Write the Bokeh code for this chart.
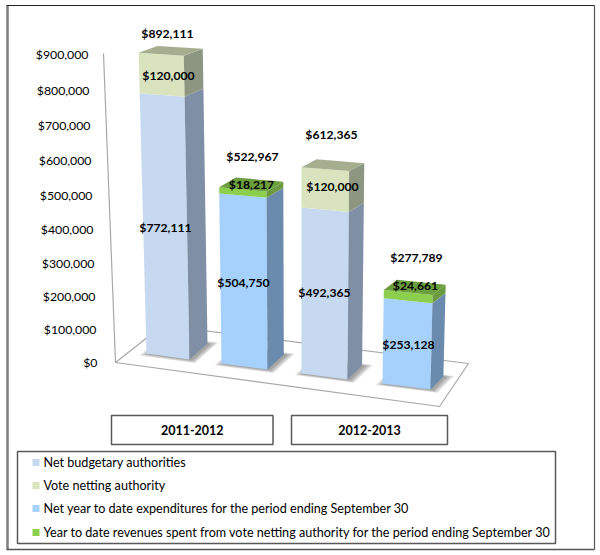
from bokeh.plotting import figure
from bokeh.embed import file_html
from bokeh.resources import INLINE
from bokeh.models import Range1d
from bokeh.core.properties import value

categories = ["2011-2012", "2012-2013"]
tick_values = [0, 100000, 200000, 300000, 400000, 500000, 600000, 700000, 800000, 900000]
tick_labels = ["$" + format(v, ",") for v in tick_values]

net_budgetary = [772111, 492365]
vote_netting = [120000, 120000]
net_expenditures = [504750, 253128]
revenues_spent = [18217, 24661]
totals_budget = [892111, 612365]
totals_spent = [522967, 277789]

legend_labels = [
    "Net budgetary authorities",
    "Vote netting authority",
    "Net year to date expenditures for the period ending September 30",
    "Year to date revenues spent from vote netting authority for the period ending September 30",
]

# styles
C_BUDGET = ("#c6d9f1", "#7f8fa6", "#a0aec0")
C_VOTE = ("#d9e4bf", "#8c9680", "#a6ae90")
C_SPENT = ("#a6d1fd", "#6a8bad", "#80a8d0")
C_REV = ("#8ccf4d", "#6b9a3f", "#6b9e3c")
LEG = ["#c6d9f1", "#d9e4bf", "#a6d1fd", "#8ccf4d"]
FONT = "Lato"
TXT = "#000000"
FLOOR = "#a8a8a8"

p = figure(width=600, height=555, output_backend="svg", toolbar_location=None,
           x_axis_type=None, y_axis_type=None, x_range=Range1d(0, 600), y_range=Range1d(555, 0),
           min_border=0, outline_line_color=None, background_fill_color="white")
p.grid.visible = False

PX_PER_VALUE = 0.000337
SLOT_X = (146, 221, 301, 382)
SLOT_W = (43, 46, 46, 48)


def corner(i, v, u, d):
    """Project bar slot i at height value v; u across (0..1), d depth (0..1)."""
    h = v * PX_PER_VALUE
    bx = SLOT_X[i] + SLOT_W[i] * u + (18 - 1.7 * i) * d
    by = 353 + 10 * i + (6 - 0.01 * h) * u + (-16 + i * 1.0 + 0.03 * h) * d
    tilt = (300 - bx) * 0.00017
    return bx - tilt * h, by - h


def axis_y(v):
    t = v / 900000
    return (-310.8 * t + 362) / (1 - 0.052 * t)


def poly(pts, fill, alpha=1.0):
    p.patch([a for a, _ in pts], [b for _, b in pts], fill_color=fill, fill_alpha=alpha, line_color=None)


# floor and wall
floor_x = [115, 439, 468, 162, 115, 103]
floor_y = [362, 406, 363, 325, 362, 53]
p.line(floor_x, floor_y, line_color=FLOOR, line_width=1.2)

# frame
p.line([7, 7], [5, 549], line_color="#7f7f7f", line_width=2.5)
p.line([6, 594], [5, 5], line_color="#222222", line_width=1.2)
p.line([594, 594], [5, 549], line_color="#555555", line_width=1.2)
p.line([6, 594], [549, 549], line_color="#555555", line_width=1.6)

# ticks
p.text(x=[97 - 9 * v / 900000 for v in tick_values], y=[axis_y(v) for v in tick_values], text=tick_labels,
       text_font=value(FONT), text_font_size="12.3px", text_color=TXT,
       text_align="right", text_baseline="middle")


def bar(i, lo, hi, colors, last):
    a, b = lo, lo + hi
    poly([corner(i, a, 0, 0), corner(i, a, 1, 0), corner(i, b, 1, 0), corner(i, b, 0, 0)], colors[0])
    poly([corner(i, a, 1, 0), corner(i, a, 1, 1), corner(i, b, 1, 1), corner(i, b, 1, 0)], colors[1])
    if last:
        poly([corner(i, b, 0, 0), corner(i, b, 1, 0), corner(i, b, 1, 1), corner(i, b, 0, 1)], colors[2])


def shadow(i):
    pts = [corner(i, 0, 0, 0), corner(i, 0, 1, 0), corner(i, 0, 1, 1), corner(i, 0, 0, 1)]
    cx = sum(a for a, _ in pts) / 4
    cy = sum(b for _, b in pts) / 4
    for grow in (1.28, 1.2, 1.12, 1.05):
        poly([(cx + 2 + (a - cx) * grow, cy + 0.5 + (b - cy) * grow) for a, b in pts], "#555555", 0.17)


slots = [(0, net_budgetary[0], vote_netting[0], C_BUDGET, C_VOTE),
         (1, net_expenditures[0], revenues_spent[0], C_SPENT, C_REV),
         (2, net_budgetary[1], vote_netting[1], C_BUDGET, C_VOTE),
         (3, net_expenditures[1], revenues_spent[1], C_SPENT, C_REV)]
for i, low, up, c1, c2 in slots:
    shadow(i)
for i, low, up, c1, c2 in slots:
    bar(i, 0, low, c1, False)
    bar(i, low, up, c2, True)

# data labels
label_values = [totals_budget[0], vote_netting[0], net_budgetary[0],
                totals_spent[0], revenues_spent[0], net_expenditures[0],
                totals_budget[1], vote_netting[1], net_budgetary[1],
                totals_spent[1], revenues_spent[1], net_expenditures[1]]
label_x = [167, 168, 165, 252, 251, 243, 331, 332, 324, 416, 415, 408]
label_y = [33, 75, 227, 156, 184, 282, 134, 186, 292, 257, 285, 344]
p.text(x=label_x, y=label_y, text=["$" + format(v, ",") for v in label_values],
       text_font=value(FONT), text_font_size="12.2px", text_font_style="bold", text_color=TXT,
       text_align="center", text_baseline="middle")

# category boxes
for left, right, cat in [(111, 272.5, categories[0]), (291, 447, categories[1])]:
    p.quad(left=[left], right=[right], top=[415], bottom=[444], fill_color="white",
           line_color="#595959", line_width=1.5)
    p.text(x=[(left + right) / 2], y=[429.5], text=[cat], text_font=value(FONT), text_font_size="12.5px",
           text_font_style="bold", text_color=TXT, text_align="center", text_baseline="middle")

# legend
p.quad(left=[17], right=[555], top=[451], bottom=[543], fill_color="white", line_color="#595959", line_width=1.5)
rows = [462, 485, 508, 532]
for row, label, col in zip(rows, legend_labels, LEG):
    p.rect(x=[35.5], y=[row], width=7, height=7, fill_color=col, line_color=None)
    p.text(x=[43], y=[row], text=[label], text_font=value(FONT), text_font_size="12.6px",
           text_color=TXT, text_align="left", text_baseline="middle")

open("out.html", "w").write(file_html(p, INLINE))
